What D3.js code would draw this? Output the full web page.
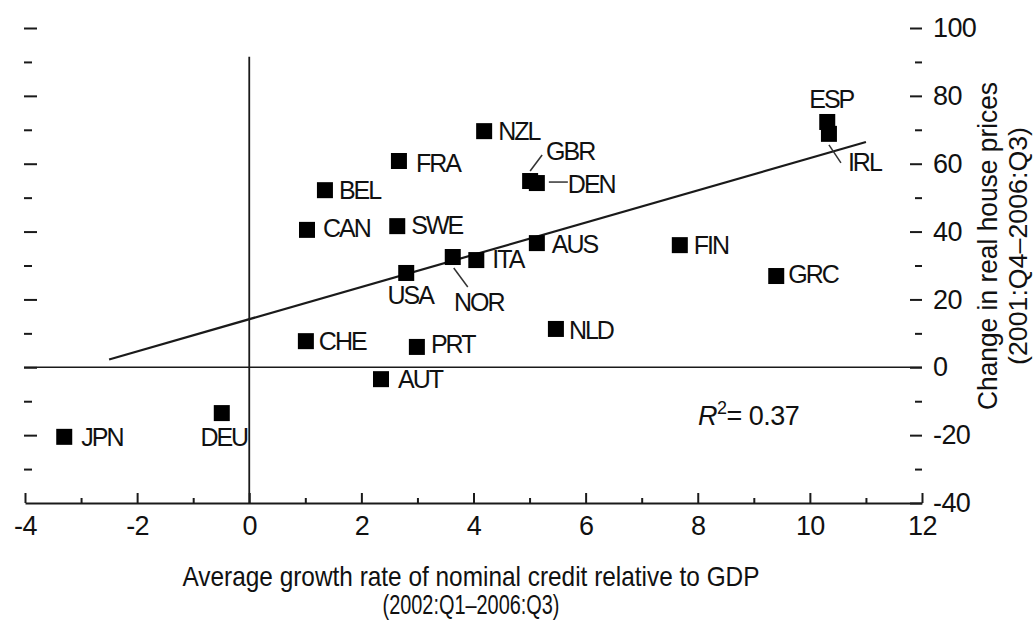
<!DOCTYPE html>
<html>
<head>
<meta charset="utf-8">
<script src="https://cdn.jsdelivr.net/npm/d3@7/dist/d3.min.js"></script>
<style>
  html, body { margin: 0; padding: 0; background: #fff; }
  svg { display: block; }
  text { font-family: "Liberation Sans", Arial, sans-serif; fill: #111; }
</style>
</head>
<body>
<svg id="chart" width="1034" height="621"></svg>
<script>
// ---------------- data ----------------
const countries    = ["JPN", "DEU", "BEL", "CAN", "CHE", "FRA", "SWE", "USA", "PRT", "AUT", "NOR", "ITA", "NZL", "GBR", "DEN", "AUS", "NLD", "FIN", "GRC", "ESP", "IRL"];
const creditGrowth = [-3.30, -0.49, 1.35, 1.03, 1.01, 2.67, 2.64, 2.80, 2.99, 2.35, 3.63, 4.05, 4.19, 5.01, 5.13, 5.13, 5.47, 7.68, 9.40, 10.31, 10.34];
const housePrice   = [-20.5, -13.5, 52.2, 40.5, 7.7, 60.8, 41.6, 27.8, 6.0, -3.5, 32.5, 31.6, 69.6, 54.9, 54.3, 36.6, 11.3, 36.0, 26.9, 72.3, 68.8];
const fitX = [-2.5, 11.0];
const fitY = [2.3, 66.4];
const rSquared = "0.37";
const xTicks = [-4, -2, 0, 2, 4, 6, 8, 10, 12];
const xMinorTicks = [-3, -1, 1, 3, 5, 7, 9, 11];
const yTicks = [-40, -20, 0, 20, 40, 60, 80, 100];
const yMinorTicks = [-30, -10, 10, 30, 50, 70, 90];
const xTitle = ["Average growth rate of nominal credit relative to GDP", "(2002:Q1\u20132006:Q3)"];
const yTitle = ["Change in real house prices", "(2001:Q4\u20132006:Q3)"];

// ---------------- layout (label placement, pixels relative to marker) ----------------
const labelLayout = {
  JPN: {dx: 17, dy: 9}, DEU: {dx: 2, dy: 33, anchor: "middle"}, BEL: {dx: 14, dy: 9},
  CAN: {dx: 16, dy: 7}, CHE: {dx: 13, dy: 9}, FRA: {dx: 17, dy: 11}, SWE: {dx: 14, dy: 8},
  USA: {dx: 4, dy: 31, anchor: "middle"}, PRT: {dx: 14, dy: 6}, AUT: {dx: 17, dy: 9},
  NOR: {dx: 26, dy: 54, anchor: "middle", leader: [1, 11, 15, 30]},
  ITA: {dx: 16, dy: 8}, NZL: {dx: 14, dy: 9},
  GBR: {dx: 16, dy: -21, leader: [0, -10, 12, -26]},
  DEN: {dx: 31, dy: 10, leader: [12, -1, 31, -1]},
  AUS: {dx: 15, dy: 10}, NLD: {dx: 13, dy: 10}, FIN: {dx: 14, dy: 9}, GRC: {dx: 12, dy: 7},
  ESP: {dx: 4, dy: -14, anchor: "middle"},
  IRL: {dx: 19, dy: 37, leader: [0, 11, 12, 29]}
};

const svg = d3.select("#chart");
const x = d3.scaleLinear().domain([-4, 12]).range([25, 922]);
const y = d3.scaleLinear().domain([-40, 100]).range([503, 28]);
const ink = "#1a1a1a";

// ---------------- axes ----------------
const fmt = d => String(d);

// bottom axis (ticks pointing up)
svg.append("g").attr("transform", `translate(0,${y(-40)})`)
  .call(d3.axisBottom(x).tickValues(xTicks).tickFormat(fmt).tickSizeInner(-10).tickSizeOuter(0).tickPadding(13));
svg.append("g").attr("transform", `translate(0,${y(-40)})`)
  .call(d3.axisBottom(x).tickValues(xMinorTicks).tickFormat("").tickSizeInner(-5).tickSizeOuter(0))
  .call(g => g.select(".domain").remove());

// right axis (ticks pointing left)
svg.append("g").attr("transform", `translate(${x(12)},0)`)
  .call(d3.axisRight(y).tickValues(yTicks).tickFormat(fmt).tickSizeInner(-12).tickSizeOuter(0).tickPadding(11))
  .call(g => g.select(".domain").remove());
svg.append("g").attr("transform", `translate(${x(12)},0)`)
  .call(d3.axisRight(y).tickValues(yMinorTicks).tickFormat("").tickSizeInner(-7).tickSizeOuter(0))
  .call(g => g.select(".domain").remove());

// left ticks (pointing right, no labels)
svg.append("g").attr("transform", `translate(${x(-4) - 1},0)`)
  .call(d3.axisLeft(y).tickValues(yTicks.filter(v => v > -40)).tickFormat("").tickSizeInner(-13).tickSizeOuter(0))
  .call(g => g.select(".domain").remove());
svg.append("g").attr("transform", `translate(${x(-4) - 1},0)`)
  .call(d3.axisLeft(y).tickValues(yMinorTicks).tickFormat("").tickSizeInner(-8).tickSizeOuter(0))
  .call(g => g.select(".domain").remove());

svg.selectAll(".domain").attr("stroke", ink).attr("stroke-width", 2);
svg.selectAll(".tick line").attr("stroke", ink).attr("stroke-width", 2);
svg.selectAll(".tick text").attr("font-size", 27).attr("letter-spacing", "-0.6px")
  .attr("font-family", "'Liberation Sans', Arial, sans-serif").attr("fill", "#111");

// zero lines
svg.append("line").attr("x1", x(-4) - 1).attr("x2", x(12)).attr("y1", y(0)).attr("y2", y(0))
  .attr("stroke", ink).attr("stroke-width", 1.6);
svg.append("line").attr("x1", x(0)).attr("x2", x(0)).attr("y1", y(91.5)).attr("y2", y(-40))
  .attr("stroke", ink).attr("stroke-width", 1.8);

// regression line
svg.append("line").attr("x1", x(fitX[0])).attr("y1", y(fitY[0])).attr("x2", x(fitX[1])).attr("y2", y(fitY[1]))
  .attr("stroke", ink).attr("stroke-width", 2.2);

// ---------------- points ----------------
const pts = countries.map((c, i) => ({c, px: x(creditGrowth[i]), py: y(housePrice[i]), L: labelLayout[c]}));

svg.append("g").selectAll("line").data(pts.filter(d => d.L.leader)).join("line")
  .attr("x1", d => d.px + d.L.leader[0]).attr("y1", d => d.py + d.L.leader[1])
  .attr("x2", d => d.px + d.L.leader[2]).attr("y2", d => d.py + d.L.leader[3])
  .attr("stroke", "#333").attr("stroke-width", 1.5);

const sq = 16;
svg.append("g").selectAll("rect").data(pts).join("rect")
  .attr("x", d => d.px - sq / 2).attr("y", d => d.py - sq / 2)
  .attr("width", sq).attr("height", sq).attr("fill", "#000");

svg.append("g").selectAll("text").data(pts).join("text")
  .attr("x", d => d.px + d.L.dx).attr("y", d => d.py + d.L.dy)
  .attr("text-anchor", d => d.L.anchor || "start")
  .attr("font-size", 25).attr("letter-spacing", "-2px")
  .text(d => d.c);

// R^2 annotation
const r2 = svg.append("text").attr("x", 698).attr("y", 425).attr("font-size", 27).attr("letter-spacing", "-0.5px");
r2.append("tspan").attr("font-style", "italic").text("R");
r2.append("tspan").attr("font-size", 18).attr("dy", -11).text("2");
r2.append("tspan").attr("dy", 11).text("= " + rSquared);

// axis titles
svg.append("text").attr("x", 471).attr("y", 586).attr("text-anchor", "middle")
  .attr("font-size", 28).attr("textLength", 577).attr("lengthAdjust", "spacingAndGlyphs").text(xTitle[0]);
svg.append("text").attr("x", 471).attr("y", 614).attr("text-anchor", "middle")
  .attr("font-size", 27).attr("textLength", 177).attr("lengthAdjust", "spacingAndGlyphs").text(xTitle[1]);

svg.append("text").attr("transform", "translate(997,246) rotate(-90)").attr("text-anchor", "middle")
  .attr("font-size", 27).attr("textLength", 328).attr("lengthAdjust", "spacingAndGlyphs").text(yTitle[0]);
svg.append("text").attr("transform", "translate(1027,246) rotate(-90)").attr("text-anchor", "middle")
  .attr("font-size", 26).attr("textLength", 238).attr("lengthAdjust", "spacingAndGlyphs").text(yTitle[1]);
</script>
</body>
</html>
